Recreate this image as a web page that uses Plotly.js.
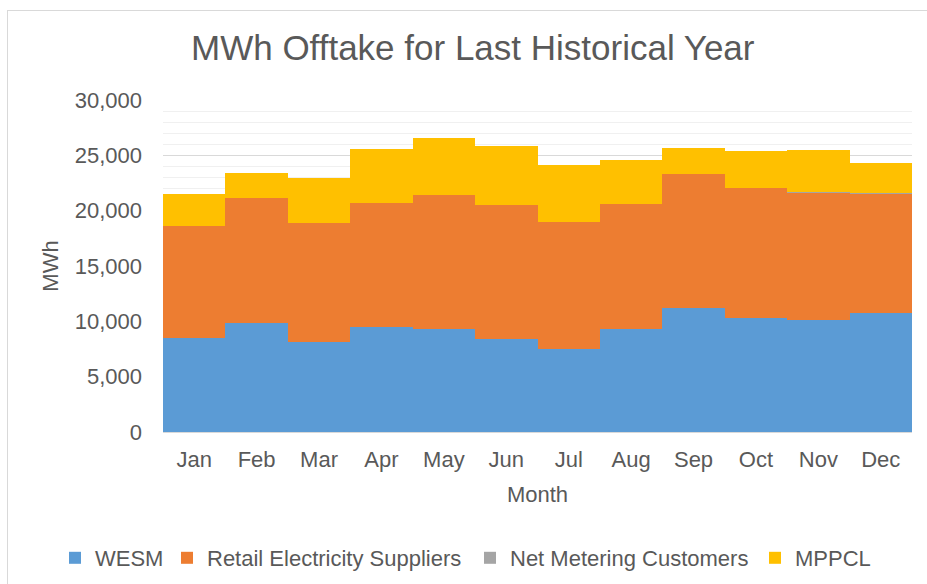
<!DOCTYPE html>
<html>
<head>
<meta charset="utf-8">
<script src="https://cdn.plot.ly/plotly-3.0.1.min.js"></script>
<style>
html,body{margin:0;padding:0;background:#fff;overflow:hidden;width:927px;height:584px;}
#frame{position:absolute;left:7px;top:10px;width:1000px;height:1000px;border:1px solid #d9d9d9;pointer-events:none;z-index:5;}
#chart{position:absolute;left:0;top:0;width:927px;height:584px;}
</style>
</head>
<body>
<div id="chart"></div>
<div id="frame"></div>
<script>
const months = ["Jan","Feb","Mar","Apr","May","Jun","Jul","Aug","Sep","Oct","Nov","Dec"];
const wesm = [8520, 9820, 8100, 9520, 9310, 8400, 7530, 9280, 11230, 10270, 10120, 10720];
const retail = [10070, 11300, 10800, 11150, 12080, 12120, 11420, 11300, 12100, 11760, 11520, 10830];
const netMetering = [10, 10, 10, 10, 10, 10, 10, 10, 10, 10, 10, 10];
const mppcl = [2930, 2290, 4030, 4880, 5130, 5300, 5190, 3980, 2310, 3310, 3850, 2730];
const seriesNames = ['WESM', 'Retail Electricity Suppliers', 'Net Metering Customers', 'MPPCL'];

const font = 'Liberation Sans, Arial, sans-serif';
const grey = '#595959';
const W = 927, H = 584;

function tr(name, y, color, lg){
  return {type:'bar', name:name, x:months, y:y, legend:lg,
    marker:{color:color, line:{width:0}}, hoverinfo:'y+name'};
}
const data = [
  tr(seriesNames[0], wesm, '#5B9BD5', 'legend'),
  tr(seriesNames[1], retail, '#ED7D31', 'legend2'),
  tr(seriesNames[2], netMetering, '#A5A5A5', 'legend3'),
  tr(seriesNames[3], mppcl, '#FFC000', 'legend4')
];
function lg(textX){
  return {orientation:'h', xref:'container', x:(textX-42)/W, xanchor:'left',
    yref:'container', y:1-558/H, yanchor:'middle',
    font:{size:22, color:grey}, itemclick:false, bgcolor:'rgba(0,0,0,0)'};
}
const layout = {
  width:W, height:H,
  margin:{l:163, r:15, t:100, b:152},
  paper_bgcolor:'rgba(0,0,0,0)', plot_bgcolor:'#fff',
  barmode:'stack', bargap:0,
  font:{family:font, color:grey, size:22},
  title:{text:'MWh Offtake for Last Historical Year', font:{family:font, size:35, color:grey},
    x:0.51, xanchor:'center', xref:'container', y:1-48/H, yanchor:'middle', yref:'container'},
  xaxis:{type:'category', showgrid:false, showline:true, linecolor:'#d9d9d9', linewidth:1,
    ticks:'', ticklabelstandoff:8, tickfont:{size:22, color:grey},
    title:{text:'Month', font:{size:22, color:grey}, standoff:15}},
  yaxis:{range:[0,30000], dtick:5000, tickformat:',d', showline:false, zeroline:false,
    gridcolor:'#d9d9d9', gridwidth:1, ticks:'', ticklabelstandoff:20,
    tickfont:{size:22, color:grey},
    minor:{dtick:1000, showgrid:true, gridcolor:'#f0f0f0', gridwidth:1},
    title:{text:'MWh', font:{size:22, color:grey}, standoff:10}},
  showlegend:true,
  legend:lg(97), legend2:lg(209), legend3:lg(512), legend4:lg(797)
};
Plotly.newPlot('chart', data, layout, {displayModeBar:false, staticPlot:true});
</script>
</body>
</html>
